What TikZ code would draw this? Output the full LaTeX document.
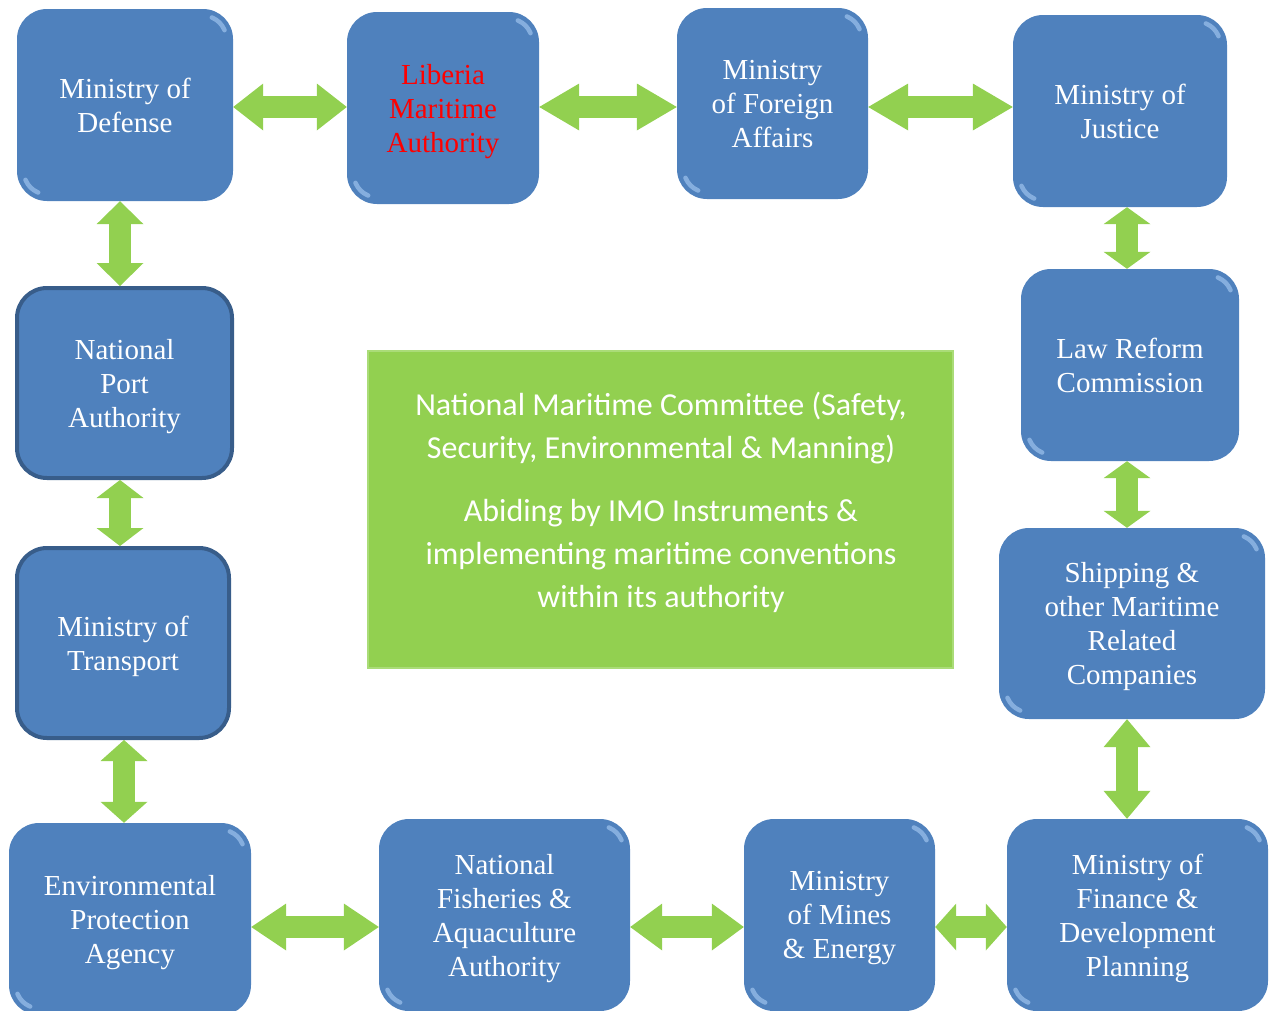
\documentclass[tikz,border=0pt]{standalone}
\usepackage{fontspec}
\setmainfont{Liberation Serif}
\newfontfamily\carlitofont{Carlito}
\usetikzlibrary{arrows.meta}
\definecolor{boxblue}{RGB}{79,129,189}
\definecolor{boxedge}{RGB}{56,93,138}
\definecolor{arrowgreen}{RGB}{146,208,80}
\definecolor{greenedge}{RGB}{170,220,120}
\definecolor{glintblue}{RGB}{170,205,245}
\newcommand\boxglint[1]{%
  \draw[glintstyle] ([xshift=-30pt,yshift=-30pt]#1.north east) ++(22:23pt) arc[start angle=22,end angle=68,radius=23pt];
  \draw[glintstyle] ([xshift=30pt,yshift=30pt]#1.south west) ++(202:23pt) arc[start angle=202,end angle=248,radius=23pt];}
\tikzset{
  blk/.style={rectangle, rounded corners=30pt, fill=boxblue, text=white, inner sep=0pt,
    align=center, text depth=0pt, font=\fontsize{29}{34}\selectfont},
  blkedge/.style={blk, draw=boxedge, line width=4pt},
  glintstyle/.style={draw=glintblue, line width=4.5pt, line cap=round, opacity=0.6},
  dbl/.style={draw=arrowgreen, line width=22pt,
    arrows={Triangle[length=#1,width=47pt,line width=0pt]-Triangle[length=#1,width=47pt,line width=0pt]}},
  center/.style={rectangle, fill=arrowgreen, draw=greenedge, line width=2pt, inner sep=0pt},
  centertext/.style={text=white, align=center, inner sep=0pt,
    font=\carlitofont\fontsize{32}{43}\selectfont}
}
\begin{document}
\begin{tikzpicture}[x=1pt,y=-1pt]
\useasboundingbox (0,0) rectangle (1269,1010);
% boxes
\node[blk, minimum width=216pt, minimum height=192pt] (def) at (125,105) {Ministry of\\Defense};
\node[blk, minimum width=192pt, minimum height=192pt, text=red] (lma) at (443,108) {Liberia\\Maritime\\Authority};
\node[blk, minimum width=191pt, minimum height=191pt] (mfa) at (772.5,103.5) {Ministry\\of Foreign\\Affairs};
\node[blk, minimum width=214pt, minimum height=192pt] (moj) at (1120,111) {Ministry of\\Justice};
\node[blk, minimum width=218pt, minimum height=192pt] (lrc) at (1130,365) {Law Reform\\Commission};
\node[blk, minimum width=266pt, minimum height=191pt] (ship) at (1132,623.5) {Shipping \&\\other Maritime\\Related\\Companies};
\node[blk, minimum width=261pt, minimum height=192pt] (fin) at (1137.5,915) {Ministry of\\Finance \&\\Development\\Planning};
\node[blk, minimum width=191pt, minimum height=192pt] (mines) at (839.5,915) {Ministry\\of Mines\\\& Energy};
\node[blk, minimum width=251pt, minimum height=192pt] (fish) at (504.5,915) {National\\Fisheries \&\\Aquaculture\\Authority};
\node[blk, minimum width=242pt, minimum height=192pt] (epa) at (130,919) {Environmental\\Protection\\Agency};
\node[blkedge, minimum width=212pt, minimum height=190pt] (mot) at (123,643) {Ministry of\\Transport};
\node[blkedge, minimum width=215pt, minimum height=190pt] (npa) at (124.5,383) {National\\Port\\Authority};
% glints
\foreach \n in {def,lma,mfa,moj,lrc,ship,fin,mines,fish,epa} {\boxglint{\n}}
% centre box
\node[center, minimum width=585pt, minimum height=317pt] (nmc) at (660.5,509.5) {};
\node[centertext] (nmctext) at (661,502.5) {National Maritime Committee (Safety,\\Security, Environmental \& Manning)\\[20pt]Abiding by IMO Instruments \&\\implementing maritime conventions\\within its authority};
% arrows
\draw[dbl=30pt] (def.east |- 0,107) -- (lma.west |- 0,107);
\draw[dbl=40pt] (lma.east |- 0,107) -- (mfa.west |- 0,107);
\draw[dbl=40pt] (mfa.east |- 0,107) -- (moj.west |- 0,107);
\draw[dbl=23pt] (def.south -| 120,0) -- (npa.north -| 120,0);
\draw[dbl=18pt] (npa.south -| 120,0) -- (mot.north -| 120,0);
\draw[dbl=21pt] (mot.south -| 124,0) -- (epa.north -| 124,0);
\draw[dbl=17pt] (moj.south -| 1127,0) -- (lrc.north -| 1127,0);
\draw[dbl=17pt] (lrc.south -| 1127,0) -- (ship.north -| 1127,0);
\draw[dbl=28pt] (ship.south -| 1127,0) -- (fin.north -| 1127,0);
\draw[dbl=35pt] (epa.east |- 0,927) -- (fish.west |- 0,927);
\draw[dbl=32pt] (fish.east |- 0,927) -- (mines.west |- 0,927);
\draw[dbl=21pt] (mines.east |- 0,927) -- (fin.west |- 0,927);
\end{tikzpicture}
\end{document}
